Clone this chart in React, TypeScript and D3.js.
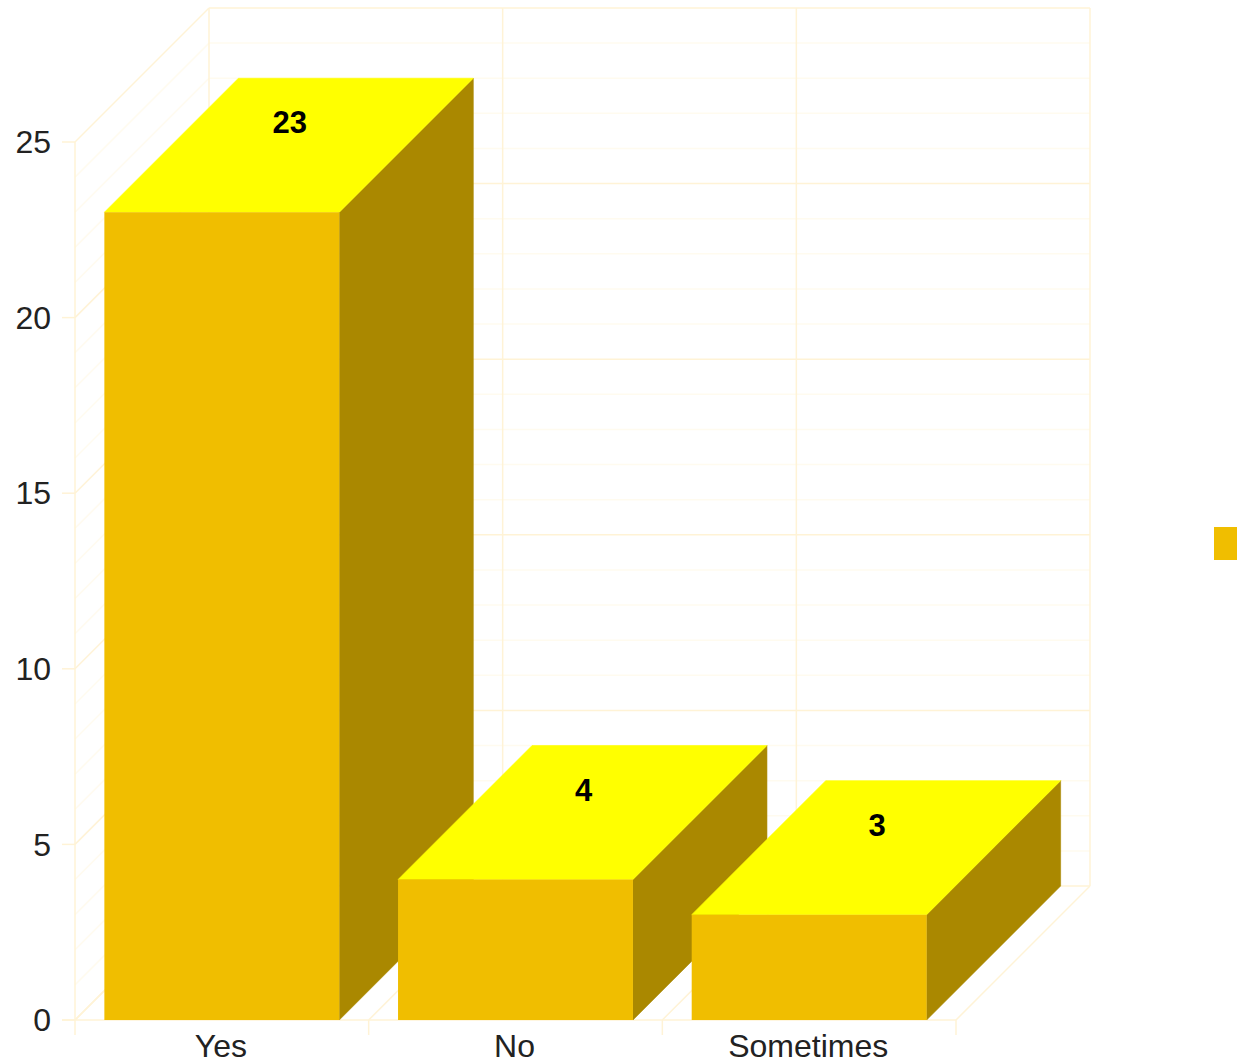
import React from "react";
import * as d3 from "d3";

const categories = ["Yes", "No", "Sometimes"];
const values = [23, 4, 3];
const yTicks = [0, 5, 10, 15, 20, 25];
const minorTicks = d3.range(0, 26);

const W = 1237;
const H = 1064;
const DX = 134;
const DY = 134;
const FONT = "Arial, 'Liberation Sans', sans-serif";

const C_FRONT = "#F0BE00";
const C_TOP = "#FFFF00";
const C_SIDE = "#AA8800";
const GRID_MAJOR = "#FFF3D6";
const GRID_MINOR = "#FFFBEF";

export default function App() {
  const x = d3.scaleBand<string>().domain(categories).range([75, 956]).padding(0);
  const y = d3.scaleLinear().domain([0, 25]).range([1020, 142]);
  const bw = x.bandwidth();
  const x0 = 75;
  const x1 = 956;
  const yBase = y(0);
  const yTop = y(25);

  const bars = categories.map((c, i) => {
    const bx = (x(c) as number) + bw * 0.1;
    const bwid = bw * 0.8;
    const v = values[i];
    const yt = y(v);
    const front = `M${bx},${yt}H${bx + bwid}V${yBase}H${bx}Z`;
    const top = `M${bx},${yt}L${bx + DX},${yt - DY}H${bx + bwid + DX}L${bx + bwid},${yt}Z`;
    const side = `M${bx + bwid},${yt}L${bx + bwid + DX},${yt - DY}V${yBase - DY}L${bx + bwid},${yBase}Z`;
    return { c, v, bx, bwid, yt, front, top, side };
  });

  return (
    <svg
      width={W}
      height={H}
      style={{ position: "absolute", left: 0, top: 0, background: "#fff" }}
    >
      <g fill="none">
        {minorTicks.map((t) => (
          <g key={"m" + t}>
            <line x1={x0 + DX} x2={x1 + DX} y1={y(t) - DY} y2={y(t) - DY} stroke={t % 5 === 0 ? GRID_MAJOR : GRID_MINOR} strokeWidth={1.5} />
            <line x1={x0} x2={x0 + DX} y1={y(t)} y2={y(t) - DY} stroke={t % 5 === 0 ? GRID_MAJOR : GRID_MINOR} strokeWidth={1.5} />
          </g>
        ))}
        {[...categories.map((c) => x(c) as number), x1].map((xv, i) => (
          <g key={"v" + i}>
            <line x1={xv + DX} x2={xv + DX} y1={yTop - DY} y2={yBase - DY} stroke={GRID_MAJOR} strokeWidth={1.5} />
            <line x1={xv} x2={xv + DX} y1={yBase} y2={yBase - DY} stroke={GRID_MAJOR} strokeWidth={1.5} />
            <line x1={xv} x2={xv} y1={yBase} y2={yBase + 15} stroke={GRID_MAJOR} strokeWidth={1.5} />
          </g>
        ))}
        <line x1={x0} x2={x0} y1={yTop} y2={yBase} stroke={GRID_MAJOR} strokeWidth={1.5} />
        <line x1={x0 - 13} x2={x1} y1={yBase} y2={yBase} stroke={GRID_MAJOR} strokeWidth={1.5} />
        {yTicks.map((t) => (
          <line key={"t" + t} x1={x0 - 13} x2={x0} y1={y(t)} y2={y(t)} stroke={GRID_MAJOR} strokeWidth={1.5} />
        ))}
      </g>

      {bars.map((b) => (
        <g key={b.c}>
          <path d={b.side} fill={C_SIDE} stroke={C_SIDE} strokeWidth={0.6} />
          <path d={b.top} fill={C_TOP} stroke={C_TOP} strokeWidth={0.6} />
          <path d={b.front} fill={C_FRONT} />
        </g>
      ))}

      {bars.map((b) => (
        <text
          key={"l" + b.c}
          x={b.bx + b.bwid / 2 + DX / 2 + 1}
          y={b.yt - DY / 2 - 12}
          textAnchor="middle"
          fontFamily={FONT}
          fontWeight="bold"
          fontSize={31}
          fill="#000"
        >
          {b.v}
        </text>
      ))}

      {yTicks.map((t) => (
        <text
          key={"yl" + t}
          x={51}
          y={y(t)}
          dy="0.35em"
          textAnchor="end"
          fontFamily={FONT}
          fontSize={32}
          fill="#222"
        >
          {t}
        </text>
      ))}

      {categories.map((c) => (
        <text
          key={"c" + c}
          x={(x(c) as number) + bw / 2 - 1}
          y={1057}
          textAnchor="middle"
          fontFamily={FONT}
          fontSize={32}
          fill="#222"
        >
          {c}
        </text>
      ))}

      <rect x={1214} y={527} width={33} height={33} fill={C_FRONT} />
    </svg>
  );
}
